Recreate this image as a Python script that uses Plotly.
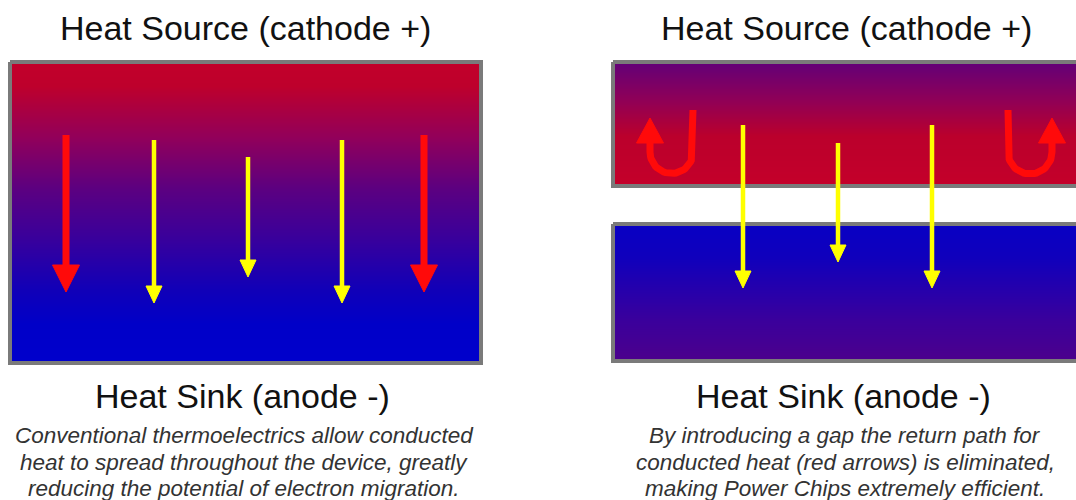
import numpy as np
import plotly.graph_objects as go

# ---------------- data (diagram coordinates, y grows downward) ----------------
panel_titles_top = ["Heat Source (cathode +)", "Heat Source (cathode +)"]
panel_titles_bottom = ["Heat Sink (anode -)", "Heat Sink (anode -)"]
panel_captions = [
    ["Conventional thermoelectrics allow conducted",
     "heat to spread throughout the device, greatly",
     "reducing the potential of electron migration."],
    ["By introducing a gap the return path for",
     "conducted heat (red arrows) is eliminated,",
     "making Power Chips extremely efficient."],
]
panel_centers = [244, 845]
caption_line_y = [435, 462, 488]

# blocks: x0, x1, y0, y1
block_x0 = [10, 613, 613]
block_x1 = [481, 1090, 1090]
block_y0 = [62, 62, 224]
block_y1 = [363, 186, 361]
block_gradient = ["left", "right_top", "right_bottom"]

# straight arrows
arrow_x = [66, 154, 248, 342, 424, 743, 838, 932]
arrow_y_start = [135, 140, 157, 140, 135, 125, 143, 125]
arrow_y_tip = [292, 303, 277, 303, 292, 288, 262, 288]
arrow_kind = ["return", "conducted", "conducted", "conducted", "return",
              "conducted", "conducted", "conducted"]

# U-turn return arrows
u_center_x = [671.5, 1030]
u_top_y = [110, 110]
u_radius = [21.5, 22]
u_center_y = [152, 152]
u_tip_y = [118, 118]
u_head_side = ["left", "right"]

# ---------------- styles ----------------
gradients = {
    "left": [[0, "#c2002a"], [0.08, "#be002c"], [0.25, "#92005a"], [0.42, "#5c0080"],
             [0.59, "#38009c"], [0.76, "#1000b8"], [0.87, "#0000c8"], [1, "#0000cc"]],
    "right_top": [[0, "#620078"], [0.3, "#8e0058"], [0.6, "#bb002c"], [1, "#c4002a"]],
    "right_bottom": [[0, "#0800c4"], [0.25, "#1000bc"], [0.7, "#3a009c"], [1, "#4c008c"]],
}
arrow_style = {
    "return": dict(color="#ff0a0a", shaft=7, head_w=27, head_l=27),
    "conducted": dict(color="#ffff00", shaft=4.5, head_w=16, head_l=17),
}
u_style = dict(color="#ff0a0a", shaft=7, head_w=27, head_l=25)
border_color = "#7a7a7a"

fig = go.Figure()

# gradient blocks
for x0, x1, y0, y1, g in zip(block_x0, block_x1, block_y0, block_y1, block_gradient):
    n = int(y1 - y0)
    edges = np.linspace(y0, y1, n + 1)
    mids = (edges[:-1] + edges[1:]) / 2
    fig.add_trace(go.Heatmap(
        x=[x0, x1], y=edges, z=mids.reshape(-1, 1),
        zmin=y0, zmax=y1, colorscale=gradients[g], showscale=False,
        hoverinfo="skip"))

# borders
for x0, x1, y0, y1 in zip(block_x0, block_x1, block_y0, block_y1):
    fig.add_trace(go.Scatter(
        x=[x0, x1, x1, x0, x0], y=[y0, y0, y1, y1, y0], mode="lines",
        line=dict(color=border_color, width=4), hoverinfo="skip", showlegend=False))

# straight arrows
for x, ys, yt, k in zip(arrow_x, arrow_y_start, arrow_y_tip, arrow_kind):
    s = arrow_style[k]
    base = yt - s["head_l"]
    fig.add_trace(go.Scatter(
        x=[x, x], y=[ys, base + 1], mode="lines",
        line=dict(color=s["color"], width=s["shaft"]), hoverinfo="skip", showlegend=False))
    fig.add_trace(go.Scatter(
        x=[x - s["head_w"] / 2, x + s["head_w"] / 2, x, x - s["head_w"] / 2],
        y=[base, base, yt, base], mode="lines", fill="toself", fillcolor=s["color"],
        line=dict(color=s["color"], width=1), hoverinfo="skip", showlegend=False))

# U arrows
for cx, ty, r, cy, tip, side in zip(u_center_x, u_top_y, u_radius, u_center_y, u_tip_y, u_head_side):
    base = tip + u_style["head_l"]
    theta = np.linspace(0, np.pi, 40)
    arc_x = cx + r * np.cos(theta)
    arc_y = cy + r * np.sin(theta)
    if side == "left":
        px = np.concatenate([[cx + r], arc_x, [cx - r]])
        py = np.concatenate([[ty], arc_y, [base - 1]])
        hx = cx - r
    else:
        px = np.concatenate([[cx - r], arc_x[::-1], [cx + r]])
        py = np.concatenate([[ty], arc_y[::-1], [base - 1]])
        hx = cx + r
    fig.add_trace(go.Scatter(
        x=px, y=py, mode="lines",
        line=dict(color=u_style["color"], width=u_style["shaft"]),
        hoverinfo="skip", showlegend=False))
    hw = u_style["head_w"] / 2
    fig.add_trace(go.Scatter(
        x=[hx - hw, hx + hw, hx, hx - hw], y=[base, base, tip, base],
        mode="lines", fill="toself", fillcolor=u_style["color"],
        line=dict(color=u_style["color"], width=1), hoverinfo="skip", showlegend=False))

# texts
title_font = dict(family="Liberation Sans, Arial", size=34, color="#111111")
cap_font = dict(family="Liberation Sans, Arial", size=22.5, color="#333333")
for cx, t_top, t_bot, cap in zip(panel_centers, panel_titles_top, panel_titles_bottom, panel_captions):
    fig.add_annotation(x=cx + 1, y=28, text=t_top, showarrow=False, font=title_font,
                       xanchor="center", yanchor="middle")
    fig.add_annotation(x=cx - 2, y=396, text=t_bot, showarrow=False, font=title_font,
                       xanchor="center", yanchor="middle")
    for line, ly in zip(cap, caption_line_y):
        fig.add_annotation(x=cx, y=ly, text="<i>" + line + "</i>", showarrow=False,
                           font=cap_font, xanchor="center", yanchor="middle")

fig.update_layout(
    width=1076, height=500, margin=dict(l=0, r=0, t=0, b=0),
    paper_bgcolor="white", plot_bgcolor="white", showlegend=False,
    xaxis=dict(range=[0, 1076], visible=False, fixedrange=True),
    yaxis=dict(range=[500, 0], visible=False, fixedrange=True),
)

fig.write_html("out.html", config={"displayModeBar": False},
               post_script="document.body.style.margin='0';document.body.style.overflow='hidden';")
